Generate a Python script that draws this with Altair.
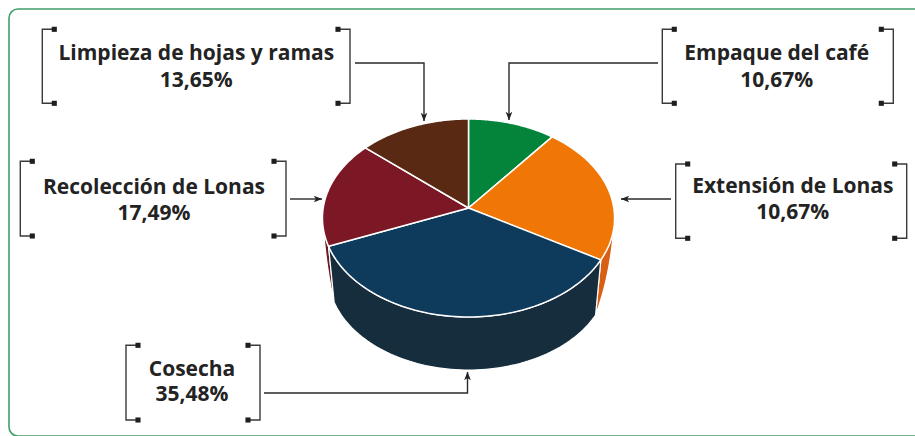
import numpy as np
import pandas as pd
import altair as alt

# Pie slices, clockwise from twelve o'clock
slices = ["Empaque del café", "Extensión de Lonas", "Cosecha", "Recolección de Lonas", "Limpieza de hojas y ramas"]
shares = [10.67, 22.71, 35.48, 17.49, 13.65]
printed = ["10,67%", "10,67%", "35,48%", "17,49%", "13,65%"]
top_colors = ["#03843a", "#f07605", "#0e3a5b", "#7c1725", "#5a2913"]
wall_colors = [None, "#d85f14", "#162d3d", "#6b1a26", None]

# Callout frames: left, right, top, bottom, text centre, first and second baseline
frames = {
    "Limpieza de hojas y ramas": (42.3, 350, 29.3, 103.3, 196.3, 60, 86.5),
    "Recolección de Lonas": (20.3, 286, 161.3, 236, 154, 194, 220),
    "Empaque del café": (662.3, 893.3, 29.3, 103.3, 776.7, 60, 86.5),
    "Extensión de Lonas": (675.7, 906.7, 164, 238.3, 792.8, 192.7, 219),
    "Cosecha": (126, 260, 345.3, 420, 192, 375.7, 401),
}
# Leader lines, each ending in an arrow tip
leaders = [
    ([355, 424, 424], [63, 63, 121], 180),
    ([658, 509, 509], [63, 63, 120], 180),
    ([290, 322], [199, 199], 90),
    ([671, 621], [199, 199], 270),
    ([264, 467.5, 467.5], [393, 393, 372], 0),
]

INK = "#232323"
W, H = 915, 436
x_enc = alt.X("x:Q", scale=alt.Scale(domain=[0, W], range=[0, W]), axis=None)
y_enc = alt.Y("y:Q", scale=alt.Scale(domain=[0, H], range=[0, H]), axis=None)

# Perspective view of the pie disc
APEX_X, APEX_Y = 468.5, 208.0
A, B, TILT = 145.3, 98.0, 0.101
DEPTH, SHRINK = 57.4, 0.96
# Angles at which the top rim is widest; the side slivers taper to nothing there
WIDEST_R, WIDEST_L = np.radians(95.8), np.radians(264.2)


def rim(theta, floor=False):
    X, Y = np.sin(theta), np.cos(theta)
    k = 1 + TILT * Y
    u, v = A * X / k, B * Y / k
    if floor:
        return APEX_X + SHRINK * u, APEX_Y + DEPTH - SHRINK * v
    return APEX_X + u, APEX_Y - v


def polygon(xs, ys, fill, stroke="white", width=1.5):
    xs, ys = list(xs), list(ys)
    df = pd.DataFrame({"x": xs + xs[:1], "y": ys + ys[:1]})
    df["i"] = range(len(df))
    return alt.Chart(df).mark_line(
        fill=fill, stroke=stroke, strokeWidth=width, strokeJoin="round", clip=True
    ).encode(x=x_enc, y=y_enc, order="i:Q")


def sliver(start, seam):
    # Side piece running from the widest rim point down to the seam with the front wall
    th = np.linspace(start, seam, 60)
    tx, ty = rim(th)
    fx, fy = rim(th, floor=True)
    f = np.linspace(0, 1, 60) ** 0.8
    ox, oy = tx + (fx - tx) * f, ty + (fy - ty) * f
    return np.r_[tx, ox[::-1]], np.r_[ty, oy[::-1]]


layers = []

# Rounded panel border
layers.append(
    alt.Chart(pd.DataFrame({"x": [9], "x2": [940], "y": [9], "y2": [436]}))
    .mark_rect(fillOpacity=0, stroke="#3fa06a", strokeWidth=1.6, cornerRadius=9, clip=True)
    .encode(x=x_enc, x2="x2:Q", y=y_enc, y2="y2:Q")
)

edges = np.radians(np.concatenate([[0], np.cumsum(shares)]) * 3.6)

# Side walls first, so the top faces cover their upper seams
sx, sy = sliver(WIDEST_L, edges[3])
layers.append(polygon(sx, sy, wall_colors[3], width=1.2))
sx, sy = sliver(WIDEST_R, edges[2])
layers.append(polygon(sx, sy, wall_colors[1], width=1.2))
th = np.linspace(edges[2], edges[3], 80)
tx, ty = rim(th)
bx, by = rim(th[::-1], floor=True)
layers.append(polygon(np.r_[tx, bx], np.r_[ty, by], wall_colors[2], width=1.2))

# Top faces
for idx, color in enumerate(top_colors):
    th = np.linspace(edges[idx], edges[idx + 1], 80)
    tx, ty = rim(th)
    layers.append(polygon(np.r_[APEX_X, tx], np.r_[APEX_Y, ty], color))

# Callout brackets with their square end caps and labels
caps, texts = [], []
for name, (l, r, t, b, cx, y1, y2) in frames.items():
    sl, sr = l + 12, r - 12
    value = printed[slices.index(name)]
    for px, py in [
        ([sl, l, l, sl], [t, t, b, b]),
        ([sr, r, r, sr], [t, t, b, b]),
    ]:
        df = pd.DataFrame({"x": px, "y": py, "i": range(4)})
        layers.append(
            alt.Chart(df).mark_line(stroke="#3a3a3a", strokeWidth=1.4)
            .encode(x=x_enc, y=y_enc, order="i:Q")
        )
    caps += [{"x": cx_, "y": cy_} for cx_ in (sl, sr) for cy_ in (t, b)]
    texts += [{"x": cx, "y": y1, "t": name}, {"x": cx, "y": y2, "t": value}]

layers.append(
    alt.Chart(pd.DataFrame(caps)).mark_square(size=26, color="#1e1e1e", opacity=1)
    .encode(x=x_enc, y=y_enc)
)

# Leader lines and arrow heads; each head sits just behind its tip
heads = []
for xs, ys, ang in leaders:
    df = pd.DataFrame({"x": xs, "y": ys, "i": range(len(xs))})
    layers.append(
        alt.Chart(df).mark_line(stroke="#2a2a2a", strokeWidth=1.4)
        .encode(x=x_enc, y=y_enc, order="i:Q")
    )
    dx, dy = np.sign(xs[-1] - xs[-2]), np.sign(ys[-1] - ys[-2])
    heads.append({"x": xs[-1] - 4 * dx, "y": ys[-1] - 4 * dy, "a": ang})

layers.append(
    alt.Chart(pd.DataFrame(heads))
    .mark_point(
        shape="M0,-1 L0.8,1 L0,0.5 L-0.8,1 Z",
        size=70, filled=True, color="#222222", opacity=1,
    )
    .encode(x=x_enc, y=y_enc, angle=alt.Angle("a:Q", scale=None))
)

layers.append(
    alt.Chart(pd.DataFrame(texts))
    .mark_text(font="Open Sans", fontWeight=700, fontSize=21, color=INK,
               align="center", baseline="alphabetic")
    .encode(x=x_enc, y=y_enc, text="t:N")
)

chart = (
    alt.layer(*layers)
    .properties(width=W, height=H, padding=0, autosize=alt.AutoSizeParams(type="none"),
                background="white")
    .configure_view(stroke=None)
)
chart.save("out.html", embed_options={"renderer": "svg", "actions": False})
